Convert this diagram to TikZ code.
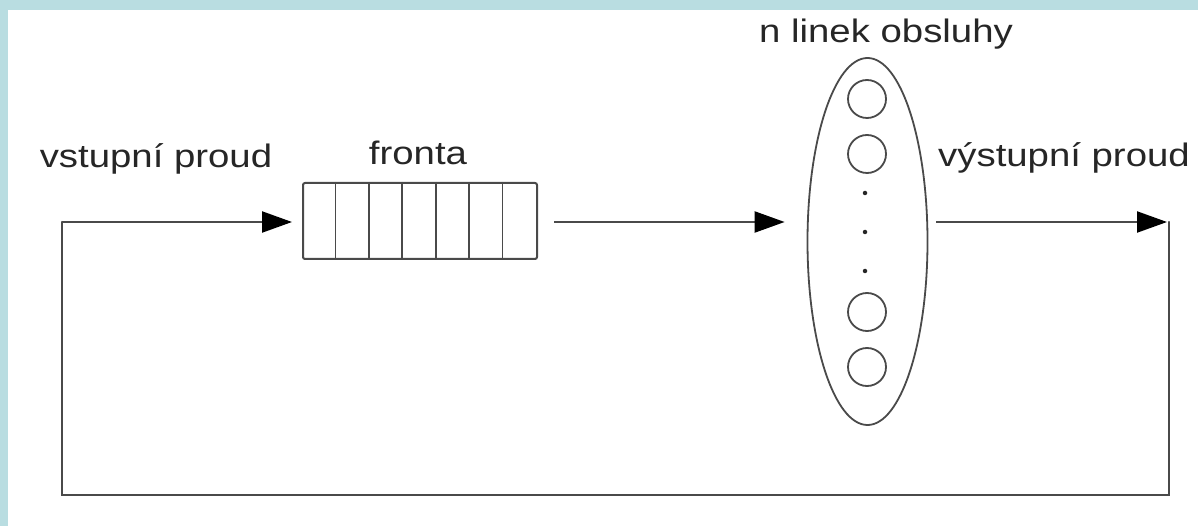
\documentclass[tikz,border=0pt]{standalone}
\usepackage{fontspec}
\setmainfont{Liberation Sans}[FakeStretch=1.18]
\usetikzlibrary{arrows.meta,shapes.geometric,calc}
\definecolor{bgteal}{HTML}{B9DDE1}
\definecolor{linegray}{HTML}{4A4A4A}
\definecolor{txtgray}{HTML}{262626}
\begin{document}
\begin{tikzpicture}[x=1pt,y=-1pt,
  conn/.style={draw=linegray,line width=2.2pt},
  arr/.style={conn,-{Triangle[length=30pt,width=21pt,fill=black,color=black]}},
  lbl/.style={anchor=base,text=txtgray,font=\fontsize{32.5}{38}\selectfont,inner sep=0pt},
  srv/.style={circle,draw=linegray,line width=1.8pt,minimum size=38pt,inner sep=0pt},
  dotm/.style={circle,fill=txtgray,minimum size=4.5pt,inner sep=0pt}]
\useasboundingbox (0,0) rectangle (1198,526);
\fill[bgteal] (0,0) rectangle (1198,526);
\fill[white] (8,10) rectangle (1198,526);

% queue
\node[draw=linegray,line width=2pt,rounded corners=2pt,minimum width=234pt,minimum height=76pt,inner sep=0pt] (queue) at (420,221) {};
\foreach \i in {1,...,6} {
  \draw[linegray,line width=1.8pt] ($(queue.north west)+(\i*33.43,0)$) -- ($(queue.south west)+(\i*33.43,0)$);
}

% servers ellipse
\node[ellipse,draw=linegray,line width=1.8pt,minimum width=120pt,minimum height=367pt,inner sep=0pt] (servers) at (867.5,241.5) {};
\node[srv] (s1) at (867,99) {};
\node[srv] (s2) at (867,154) {};
\node[dotm] (d1) at (865,193) {};
\node[dotm] (d2) at (865,232) {};
\node[dotm] (d3) at (865,271) {};
\node[srv] (s3) at (867,312) {};
\node[srv] (s4) at (867,367) {};

% labels
\node[lbl] (lin) at (156,168) {vstupní proud};
\node[lbl] (lfr) at (418,165) {fronta};
\node[lbl] (lsv) at (886,43) {n linek obsluhy};
\node[lbl] (lout) at (1064,167) {výstupní proud};

% connectors
\coordinate (tr) at (1169,222);
\coordinate (br) at (1169,495);
\coordinate (bl) at (62,495);
\coordinate (tl) at (62,222);
\draw[arr,shorten >=10pt] (tl) -- (queue.west |- tl);
\draw[arr,shorten <=16pt,shorten >=22pt] (queue.east |- tl) -- (servers.west |- tl);
\draw[arr,shorten <=8pt,shorten >=2pt] (servers.east |- tr) -- (tr);
\draw[conn,line cap=round] (tr) -- (br) -- (bl) -- (tl);
\end{tikzpicture}
\end{document}
